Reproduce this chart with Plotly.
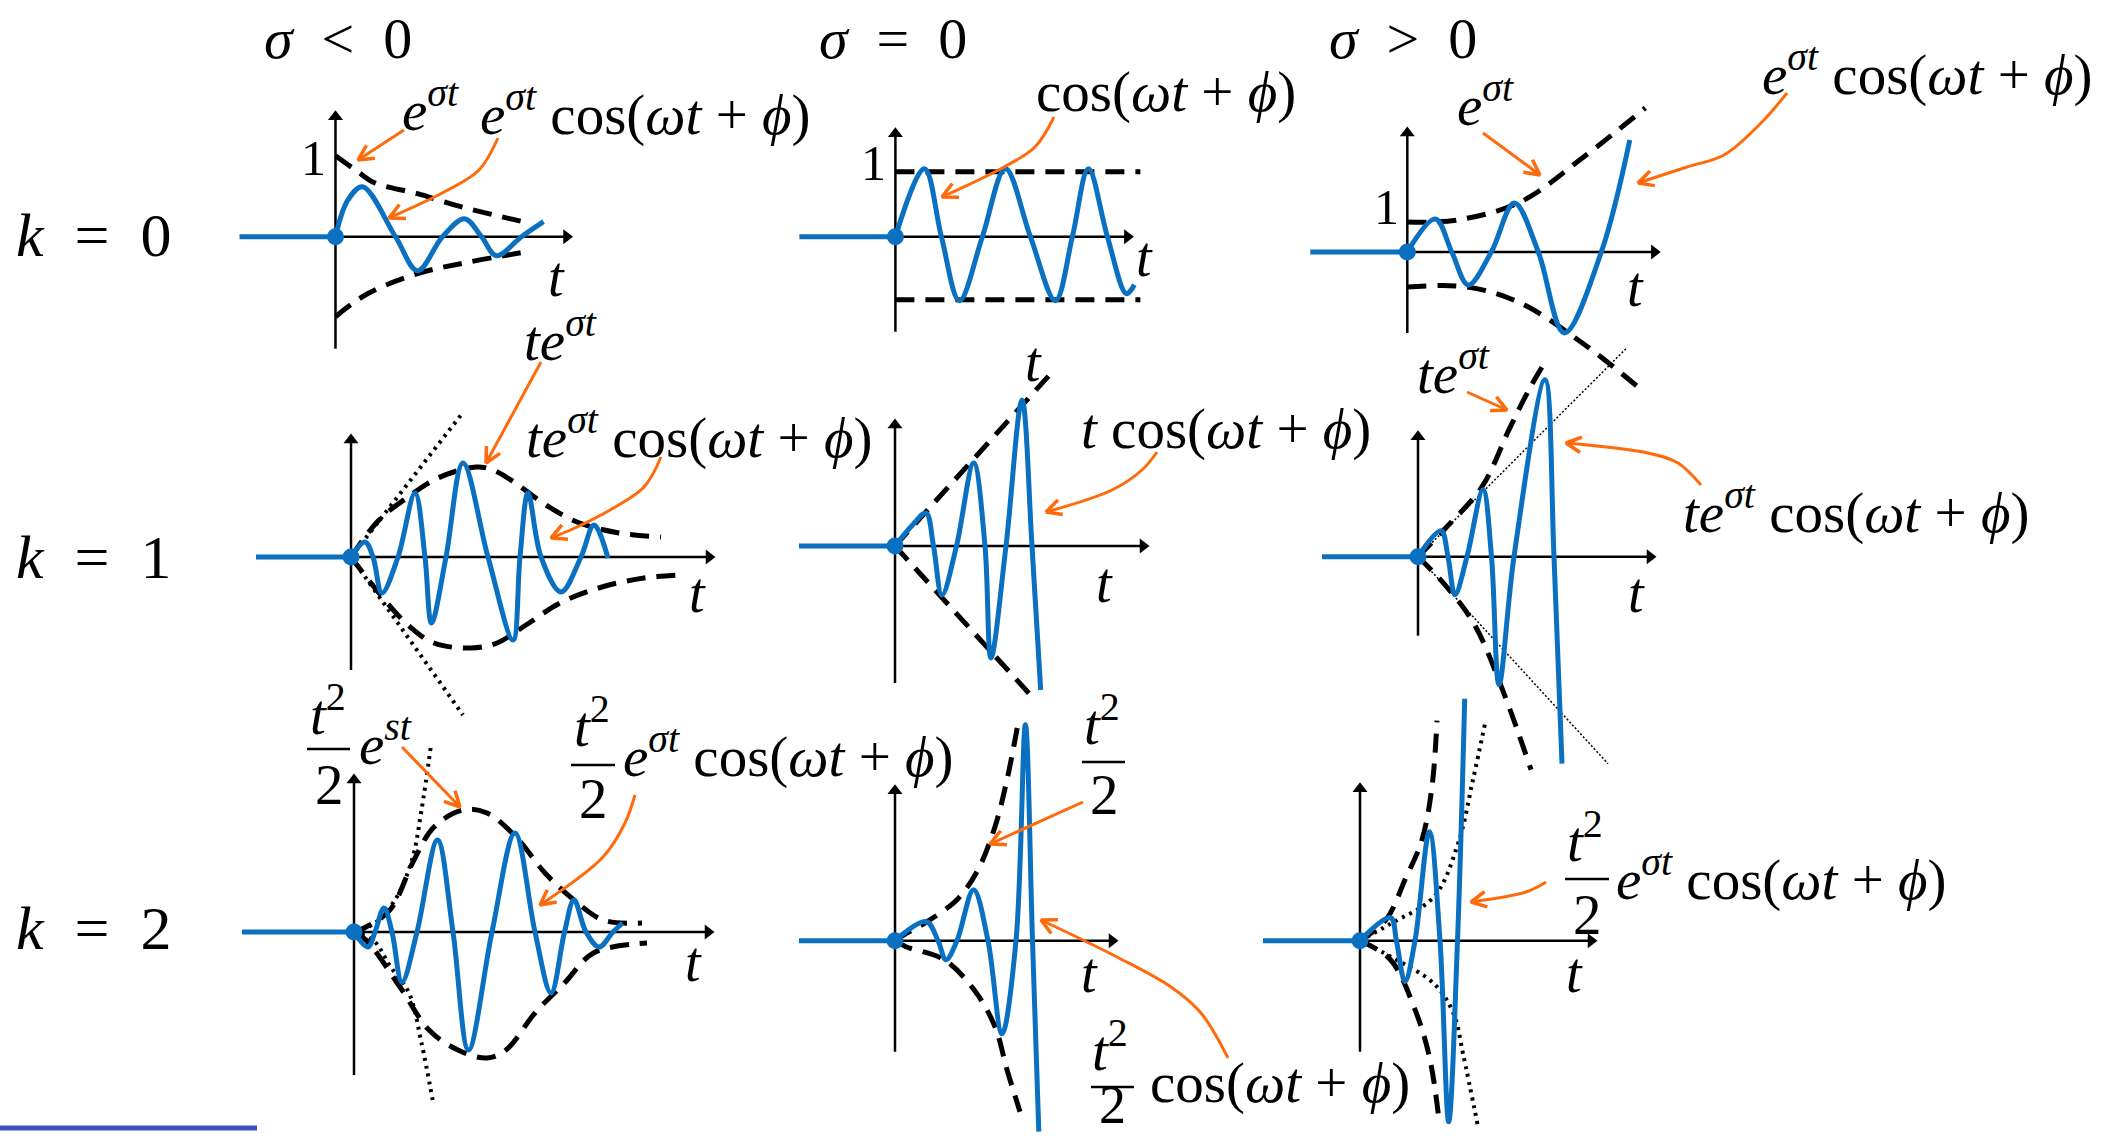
import math
import plotly.graph_objects as go

W, H = 2121, 1142
BLUE = "#0A70C2"
ORANGE = "#FF6A0A"
FONT = "Liberation Serif, DejaVu Serif, serif"

# ---------------- data (panel-local units: t to the right, value up) ----------------
# sigma<0, k=0
P11_BLUE_T = [0, 12, 27, 60, 82, 107, 129, 146, 161, 186, 208]
P11_BLUE_Y = [0, 36, 50, 0, -34, 0, 18, 0, -19, 0, 15]
P11_UP_T = [0, 21, 39, 82, 129, 192]
P11_UP_Y = [81, 66, 54, 43, 29, 14]
P11_LO_T = [0, 32, 82, 130, 192]
P11_LO_Y = [-80, -57, -37, -26, -15]
# sigma=0, k=0
P12_BLUE_T = [0, 29, 46, 64, 87, 110, 135, 160, 177, 193, 212, 231, 239]
P12_BLUE_Y = [0, 68, 0, -64, 0, 68, 0, -64, 0, 68, 0, -57, -48]
P12_UP_T = [0, 245]
P12_UP_Y = [65, 65]
P12_LO_T = [0, 245]
P12_LO_Y = [-63, -63]
# sigma>0, k=0
P13_BLUE_T = [0, 28, 44.5, 61, 84, 107, 131, 157, 194, 222.5]
P13_BLUE_Y = [0, 33, 0, -33, 0, 49, 0, -81, 0, 112]
P13_UP_T = [0, 50, 113, 175, 238]
P13_UP_Y = [30, 32, 50, 94, 144]
P13_LO_T = [0, 60, 113, 175, 238]
P13_LO_Y = [-35, -35, -51, -91, -141]
# sigma<0, k=1
P21_BLUE_T = [0, 14, 22, 31, 47, 64, 74, 80.5, 95, 112, 137, 162, 169, 177, 190, 210, 230, 243, 257]
P21_BLUE_Y = [0, 15, 0, -36, 0, 64, 0, -66, 0, 94, 0, -83, 0, 64, 0, -35, 0, 32, -1]
P21_UP_T = [0, 28, 57, 87, 125, 142, 163, 192, 226, 268, 310]
P21_UP_Y = [0, 37, 60, 79, 90, 87, 75, 54, 35, 24, 20]
P21_LO_T = [0, 28, 57, 83, 120, 146, 175, 209, 251, 293, 329]
P21_LO_Y = [0, -36, -68, -86, -91, -86, -68, -46, -30, -21, -18]
P21_DOTU_T = [0, 110]
P21_DOTU_Y = [0, 142]
P21_DOTL_T = [0, 112]
P21_DOTL_Y = [0, -158]
# sigma=0, k=1
P22_BLUE_T = [0, 17.5, 31, 38.5, 47, 61.5, 78.7, 90, 96, 111, 127, 137, 145.7]
P22_BLUE_Y = [0, 21, 33, 0, -49, 0, 83, 0, -112, 0, 146, 0, -144]
P22_UP_T = [0, 159]
P22_UP_Y = [0, 176]
P22_LO_T = [0, 140]
P22_LO_Y = [0, -154]
# sigma>0, k=1
P23_BLUE_T = [0, 23, 30, 37, 49, 65, 73.5, 81, 96, 127, 136, 144]
P23_BLUE_Y = [0, 26, 0, -38, 0, 67, 0, -128, 0, 177, 0, -207]
P23_UP_T = [0, 26, 64, 91, 111, 126]
P23_UP_Y = [0, 27, 70, 127, 167, 193]
P23_LO_T = [0, 26, 56, 86, 113]
P23_LO_Y = [0, -27, -67, -137, -213]
P23_THINU_T = [0, 208]
P23_THINU_Y = [0, 208]
P23_THINL_T = [0, 190]
P23_THINL_Y = [0, -207]
# sigma<0, k=2
P31_BLUE_T = [0, 14, 21, 30, 38, 48, 63, 83.5, 99, 114.5, 138, 161, 181, 197, 210.5, 220, 232, 245, 259, 268.6]
P31_BLUE_Y = [0, -15, 0, 24, 0, -50, 0, 92, 0, -118, 0, 99, 0, -61, 0, 32, 0, -15, 0, 9]
P31_UP_T = [0, 12, 36, 60, 80, 109, 133, 162, 191, 220, 249, 288]
P31_UP_Y = [0, 5, 22, 72, 105, 122, 119, 95, 59, 32, 12, 9]
P31_LO_T = [0, 12, 46, 75, 104, 133, 152, 181, 210.5, 239.5, 293]
P31_LO_Y = [0, -8, -55, -98, -118, -126, -118, -81, -51, -21, -11]
P31_DOTU_T = [0, 21, 41, 58, 67.5, 77]
P31_DOTU_Y = [0, 9, 32, 72, 122, 187]
P31_DOTL_T = [0, 20, 36, 55, 67.5, 78.6]
P31_DOTL_Y = [0, -9, -34, -61, -111, -168]
# sigma=0, k=2
P32_BLUE_T = [0, 31.5, 43, 51, 62, 78.6, 93, 107, 121, 130.4, 137.5, 143.8]
P32_BLUE_Y = [0, 19, 0, -19, 0, 51, 0, -93, 0, 216, 0, -191]
P32_UP_T = [0, 11, 32, 62, 83, 100, 112, 123]
P32_UP_Y = [0, 7, 19, 41, 71, 114, 161, 217]
P32_LO_T = [0, 11, 49, 79, 100, 112, 125]
P32_LO_Y = [0, -6, -19, -49, -86, -129, -171]
# sigma>0, k=2
P33_BLUE_T = [0, 30.6, 36.4, 45, 55, 69.4, 80, 88.7, 97.5, 104.7]
P33_BLUE_Y = [0, 23, 0, -41, 0, 109, 0, -181, 0, 242]
P33_UP_T = [0, 26, 45, 62, 72, 77]
P33_UP_Y = [0, 21, 61, 101, 154, 220]
P33_LO_T = [0, 30.5, 55, 69.4, 79]
P33_LO_Y = [0, -19, -69, -116, -179]
P33_DOTU_T = [0, 30.6, 74, 98, 113, 125]
P33_DOTU_Y = [0, 17, 44, 97, 161, 217]
P33_DOTL_T = [0, 30.6, 74, 93.6, 103, 118]
P33_DOTL_Y = [0, -16, -43, -73, -113, -186]

COL_LABELS = ["<i>σ</i>\u2002&lt;\u20020", "<i>σ</i>\u2002=\u20020", "<i>σ</i>\u2002&gt;\u20020"]
ROW_LABELS = ["<i>k</i>\u2002=\u20020", "<i>k</i>\u2002=\u20021", "<i>k</i>\u2002=\u20022"]

# ---------------- layout: where each panel sits on the page ----------------
PANELS = [
    dict(ox=335.5, oy=236.7, ybot=-112, ytop=127, tend=238, lead=-96,
         curves=[(P11_UP_T, P11_UP_Y, "dash"), (P11_LO_T, P11_LO_Y, "dash"), (P11_BLUE_T, P11_BLUE_Y, "blue")]),
    dict(ox=895.4, oy=236.7, ybot=-95, ytop=110, tend=239, lead=-96,
         curves=[(P12_UP_T, P12_UP_Y, "dash"), (P12_LO_T, P12_LO_Y, "dash"), (P12_BLUE_T, P12_BLUE_Y, "blue")]),
    dict(ox=1407.3, oy=252, ybot=-81, ytop=126, tend=254, lead=-97,
         curves=[(P13_UP_T, P13_UP_Y, "dash"), (P13_LO_T, P13_LO_Y, "dash"), (P13_BLUE_T, P13_BLUE_Y, "blue")]),
    dict(ox=351, oy=557, ybot=-113, ytop=124, tend=365, lead=-95,
         curves=[(P21_DOTU_T, P21_DOTU_Y, "dot"), (P21_DOTL_T, P21_DOTL_Y, "dot"),
                 (P21_UP_T, P21_UP_Y, "dash"), (P21_LO_T, P21_LO_Y, "dash"), (P21_BLUE_T, P21_BLUE_Y, "blue")]),
    dict(ox=895, oy=546, ybot=-137, ytop=128, tend=255, lead=-96,
         curves=[(P22_UP_T, P22_UP_Y, "dash"), (P22_LO_T, P22_LO_Y, "dash"), (P22_BLUE_T, P22_BLUE_Y, "blue")]),
    dict(ox=1418, oy=556.7, ybot=-79, ytop=127, tend=239, lead=-96,
         curves=[(P23_THINU_T, P23_THINU_Y, "thin"), (P23_THINL_T, P23_THINL_Y, "thin"),
                 (P23_UP_T, P23_UP_Y, "dash"), (P23_LO_T, P23_LO_Y, "dash"), (P23_BLUE_T, P23_BLUE_Y, "blue")]),
    dict(ox=354, oy=932, ybot=-143, ytop=159, tend=361, lead=-112,
         curves=[(P31_DOTU_T, P31_DOTU_Y, "dot"), (P31_DOTL_T, P31_DOTL_Y, "dot"),
                 (P31_UP_T, P31_UP_Y, "dash"), (P31_LO_T, P31_LO_Y, "dash"), (P31_BLUE_T, P31_BLUE_Y, "blue")]),
    dict(ox=895, oy=940.7, ybot=-111, ytop=157, tend=224, lead=-96,
         curves=[(P32_UP_T, P32_UP_Y, "dash"), (P32_LO_T, P32_LO_Y, "dash"), (P32_BLUE_T, P32_BLUE_Y, "blue")]),
    dict(ox=1360, oy=940.7, ybot=-111, ytop=159, tend=238, lead=-97,
         curves=[(P33_DOTU_T, P33_DOTU_Y, "dot"), (P33_DOTL_T, P33_DOTL_Y, "dot"),
                 (P33_UP_T, P33_UP_Y, "dash"), (P33_LO_T, P33_LO_Y, "dash"), (P33_BLUE_T, P33_BLUE_Y, "blue")]),
]

STYLES = {
    "blue": dict(color=BLUE, width=5, shape="spline", smoothing=1.0),
    "dash": dict(color="black", width=5, dash="19px,11px", shape="spline", smoothing=1.0),
    "dot": dict(color="black", width=4, dash="3px,5px", shape="spline", smoothing=1.0),
    "thin": dict(color="black", width=1.5, dash="2px,2px"),
}

fig = go.Figure()
layout = dict(width=W, height=H, margin=dict(l=0, r=0, t=0, b=0),
              paper_bgcolor="white", plot_bgcolor="white", showlegend=False)
annotations = []
shapes = []


def axname(k):
    return ("x" if k == 1 else f"x{k}"), ("y" if k == 1 else f"y{k}")


HEAD = 7  # half-length of axis arrow triangles (px)
for k, p in enumerate(PANELS, start=1):
    xa, ya = axname(k)
    xkey = "xaxis" if k == 1 else f"xaxis{k}"
    ykey = "yaxis" if k == 1 else f"yaxis{k}"
    layout[xkey] = dict(domain=[0, 1], range=[-p["ox"], W - p["ox"]], visible=False, fixedrange=True,
                        anchor=ya, **({} if k == 1 else dict(overlaying="x")))
    layout[ykey] = dict(domain=[0, 1], range=[-(H - p["oy"]), p["oy"]], visible=False, fixedrange=True,
                        anchor=xa, **({} if k == 1 else dict(overlaying="y")))
    # sketch axes (t-axis and vertical axis) with arrow heads
    fig.add_trace(go.Scatter(x=[0, p["tend"] - HEAD], y=[0, 0], xaxis=xa, yaxis=ya, mode="lines",
                             line=dict(color="black", width=2.5), hoverinfo="skip"))
    fig.add_trace(go.Scatter(x=[0, 0], y=[p["ybot"], p["ytop"] - HEAD], xaxis=xa, yaxis=ya, mode="lines",
                             line=dict(color="black", width=2.5), hoverinfo="skip"))
    fig.add_trace(go.Scatter(x=[p["tend"] - HEAD, 0], y=[0, p["ytop"] - HEAD], xaxis=xa, yaxis=ya,
                             mode="markers", hoverinfo="skip",
                             marker=dict(symbol=["triangle-right", "triangle-up"], size=13, color="black")))
    for t, y, st in p["curves"]:
        fig.add_trace(go.Scatter(x=t, y=y, xaxis=xa, yaxis=ya, mode="lines", line=STYLES[st],
                                 hoverinfo="skip"))
    fig.add_trace(go.Scatter(x=[p["lead"], 0], y=[0, 0], xaxis=xa, yaxis=ya, mode="lines",
                             line=dict(color=BLUE, width=5), hoverinfo="skip"))
    fig.add_trace(go.Scatter(x=[0], y=[0], xaxis=xa, yaxis=ya, mode="markers",
                             marker=dict(color=BLUE, size=17), hoverinfo="skip"))

# decoration axis in page pixels
K = len(PANELS) + 1
layout[f"xaxis{K}"] = dict(domain=[0, 1], range=[0, W], visible=False, fixedrange=True,
                           overlaying="x", anchor=f"y{K}")
layout[f"yaxis{K}"] = dict(domain=[0, 1], range=[H, 0], visible=False, fixedrange=True,
                           overlaying="y", anchor=f"x{K}")
DX, DY = f"x{K}", f"y{K}"

# orange call-out arrows (page px), tail ... tip
ARROWS = [
    [(404, 130), (358, 160)],
    [(498, 138), (479, 170), (446, 191), (389, 218)],
    [(1054, 117), (1035, 147), (1004, 167), (942, 197)],
    [(1483, 133), (1540, 175)],
    [(1787, 93), (1761, 123), (1724, 155), (1687, 167), (1638, 183)],
    [(541, 362), (486, 463)],
    [(661, 457), (644, 487), (610, 510), (577, 527), (551, 538)],
    [(1157, 452), (1142, 470), (1112, 490), (1046, 512)],
    [(1467, 392), (1507, 410)],
    [(1701, 485), (1678, 463), (1648, 453), (1566, 443)],
    [(402, 747), (460, 807)],
    [(635, 795), (625, 823), (603, 857), (540, 905)],
    [(1083, 802), (990, 844)],
    [(1228, 1058), (1201, 1013), (1171, 987), (1117, 957), (1041, 920)],
    [(1546, 882), (1526, 892), (1471, 902)],
]
HL, HA = 17, math.radians(27)
for pts in ARROWS:
    xs = [q[0] for q in pts]
    ys = [q[1] for q in pts]
    fig.add_trace(go.Scatter(x=xs, y=ys, xaxis=DX, yaxis=DY, mode="lines",
                             line=dict(color=ORANGE, width=3, shape="spline"), hoverinfo="skip"))
    (x0, y0), (x1, y1) = pts[-2], pts[-1]
    ang = math.atan2(y1 - y0, x1 - x0)
    hx = [x1 - HL * math.cos(ang + HA), x1, x1 - HL * math.cos(ang - HA)]
    hy = [y1 - HL * math.sin(ang + HA), y1, y1 - HL * math.sin(ang - HA)]
    fig.add_trace(go.Scatter(x=hx, y=hy, xaxis=DX, yaxis=DY, mode="lines",
                             line=dict(color=ORANGE, width=3.5), hoverinfo="skip"))

# stray blue rule at bottom-left
fig.add_trace(go.Scatter(x=[0, 257], y=[1128, 1128], xaxis=DX, yaxis=DY, mode="lines",
                         line=dict(color="#3B4FBF", width=5), hoverinfo="skip"))


def txt(x, y, s, size=57, xa="left", ya="middle"):
    annotations.append(dict(xref=DX, yref=DY, x=x, y=y, text=s, showarrow=False, xanchor=xa, yanchor=ya,
                            font=dict(family=FONT, size=size, color="black")))


def frac_bar(x0, x1, y):
    shapes.append(dict(type="line", xref=DX, yref=DY, x0=x0, x1=x1, y0=y, y1=y,
                       line=dict(color="black", width=2.5)))


E = "<i>e</i><sup><i>σt</i></sup>"
TE = "<i>te</i><sup><i>σt</i></sup>"
COS = "cos(<i>ωt</i> + <i>ϕ</i>)"
T2 = "<i>t</i><sup>2</sup>"

for s, x in zip(COL_LABELS, [338, 893, 1403]):
    txt(x, 38, s, size=58, xa="center")
for s, y in zip(ROW_LABELS, [235, 557, 928]):
    txt(14, y, s, size=62)

# "1" marks
for x, y in [(313, 158), (873, 163), (1386, 207)]:
    txt(x, y, "1", size=50, xa="center")
# t axis labels
for x, y in [(556, 277), (1144, 257), (1635, 287), (697, 593), (1104, 583), (1636, 593),
             (693, 962), (1089, 973), (1574, 973)]:
    txt(x, y, "<i>t</i>", size=56, xa="center")

txt(400, 106, E)
txt(478, 110, E + " " + COS)
txt(1034, 92, COS)
txt(1455, 101, E)
txt(1760, 70, E + " " + COS)
txt(522, 336, TE)
txt(524, 433, TE + " " + COS)
txt(1033, 362, "<i>t</i>", size=56, xa="center")
txt(1079, 429, "<i>t</i> " + COS)
txt(1415, 369, TE)
txt(1681, 508, TE + " " + COS)

# fractions
txt(328, 710, T2, xa="center")
frac_bar(307, 350, 749)
txt(329, 784, "2", xa="center")
txt(357, 740, "<i>e</i><sup><i>st</i></sup>")

txt(592, 722, T2, xa="center")
frac_bar(571, 615, 765)
txt(593, 798, "2", xa="center")
txt(621, 752, E + " " + COS)

txt(1102, 720, T2, xa="center")
frac_bar(1082, 1125, 762)
txt(1104, 794, "2", xa="center")

txt(1110, 1046, T2, xa="center")
frac_bar(1091, 1134, 1087)
txt(1112, 1105, "2", size=54, xa="center")
txt(1148, 1083, COS)

txt(1585, 837, T2, xa="center")
frac_bar(1565, 1609, 879)
txt(1587, 914, "2", xa="center")
txt(1614, 875, E + " " + COS)

layout["annotations"] = annotations
layout["shapes"] = shapes
fig.update_layout(**layout)
fig.write_html("out.html", config={"displayModeBar": False},
               post_script="document.body.style.margin='0';document.body.style.overflow='hidden';")
